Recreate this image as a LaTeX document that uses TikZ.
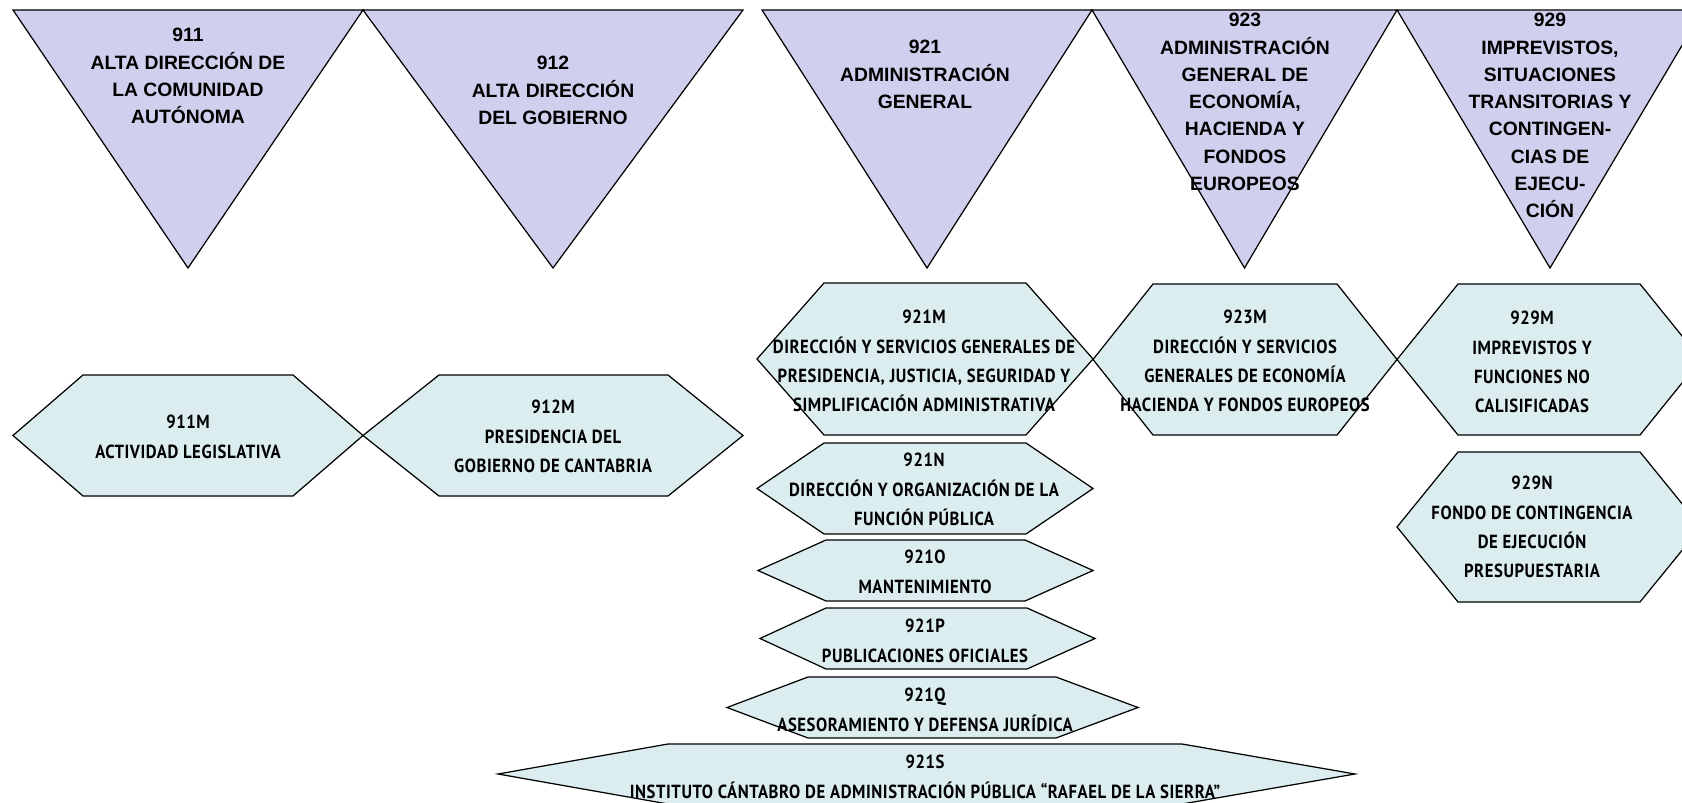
\documentclass[tikz,border=0pt]{standalone}
\usepackage{fontspec}
\setmainfont{Liberation Sans}
\newfontfamily\hexfont[FakeStretch=0.88, LetterSpace=3]{PT Sans}
\definecolor{trifill}{RGB}{208,208,238}
\definecolor{hexfill}{RGB}{219,237,238}
\tikzset{
  tri/.style={fill=trifill, draw=black, line width=0.7pt, line join=miter},
  hexa/.style={fill=hexfill, draw=black, line width=0.7pt},
  trilabel/.style={anchor=north, align=center, inner sep=0pt,
    font=\fontsize{11pt}{15.5pt}\selectfont\bfseries},
  hexlabel/.style={anchor=north, align=center, inner sep=0pt,
    font=\hexfont\fontsize{10.8pt}{16.7pt}\selectfont\bfseries}
}
\begin{document}
\begin{tikzpicture}[x=0.02cm, y=-0.02cm]
    \useasboundingbox (0,0) rectangle (1682,803);
    \clip (0,0) rectangle (1682,803);

    % Programme triangles
    \foreach \l/\r in {13/363, 363/743, 762/1092, 1092/1397, 1397/1703}
        \draw[tri] (\l,10) -- (\r,10) -- ({(\l+\r)/2},268) -- cycle;

    % Sub-programme hexagons
    \foreach \a/\b/\c/\d/\t/\u in {13/83/293/363/375/496, 363/439/668/743/375/496,
        757/824/1026/1093/283/435, 1093/1153/1337/1397/284/435,
        1397/1458/1640/1701/284/435, 757/824/1026/1093/443/534,
        758/826/1025/1093/540/601, 760/826/1027/1095/608/669,
        727/808/1056/1138/677/738, 498/668/1182/1355/744/804,
        1397/1458/1640/1701/452/602}
        \draw[hexa] (\a,{(\t+\u)/2}) -- (\b,\t) -- (\c,\t) -- (\d,{(\t+\u)/2})
            -- (\c,\u) -- (\b,\u) -- cycle;

    % Labels of the triangles
    \node[trilabel] (p911) at (188,28) {911\\ALTA DIRECCIÓN DE\\LA COMUNIDAD\\AUTÓNOMA};
    \node[trilabel] (p912) at (553,56) {912\\ALTA DIRECCIÓN\\DEL GOBIERNO};
    \node[trilabel] (p921) at (925,40) {921\\ADMINISTRACIÓN\\GENERAL};
    \node[trilabel] (p923) at (1245,13) {923\\ADMINISTRACIÓN\\GENERAL DE\\ECONOMÍA,\\HACIENDA Y\\FONDOS\\EUROPEOS};
    \node[trilabel] (p929) at (1550,13) {929\\IMPREVISTOS,\\SITUACIONES\\TRANSITORIAS Y\\CONTINGEN-\\CIAS DE\\EJECU-\\CIÓN};

    % Labels of the hexagons
    \node[hexlabel] (s911m) at (188,415) {911M\\ACTIVIDAD LEGISLATIVA};
    \node[hexlabel] (s912m) at (553,400) {912M\\PRESIDENCIA DEL\\GOBIERNO DE CANTABRIA};
    \node[hexlabel] (s921m) at (924,310) {921M\\DIRECCIÓN Y SERVICIOS GENERALES DE\\PRESIDENCIA, JUSTICIA, SEGURIDAD Y\\SIMPLIFICACIÓN ADMINISTRATIVA};
    \node[hexlabel] (s923m) at (1245,310) {923M\\DIRECCIÓN Y SERVICIOS\\GENERALES DE ECONOMÍA\\HACIENDA Y FONDOS EUROPEOS};
    \node[hexlabel] (s929m) at (1532,311) {929M\\IMPREVISTOS Y\\FUNCIONES NO\\CALISIFICADAS};
    \node[hexlabel] (s929n) at (1532,476) {929N\\FONDO DE CONTINGENCIA\\DE EJECUCIÓN\\PRESUPUESTARIA};
    \node[hexlabel] (s921n) at (924,453) {921N\\DIRECCIÓN Y ORGANIZACIÓN DE LA\\FUNCIÓN PÚBLICA};
    \node[hexlabel] (s921o) at (925,550) {921O\\MANTENIMIENTO};
    \node[hexlabel] (s921p) at (925,619) {921P\\PUBLICACIONES OFICIALES};
    \node[hexlabel] (s921q) at (925,688) {921Q\\ASESORAMIENTO Y DEFENSA JURÍDICA};
    \node[hexlabel] (s921s) at (925,755) {921S\\INSTITUTO CÁNTABRO DE ADMINISTRACIÓN PÚBLICA “RAFAEL DE LA SIERRA”};
\end{tikzpicture}
\end{document}
